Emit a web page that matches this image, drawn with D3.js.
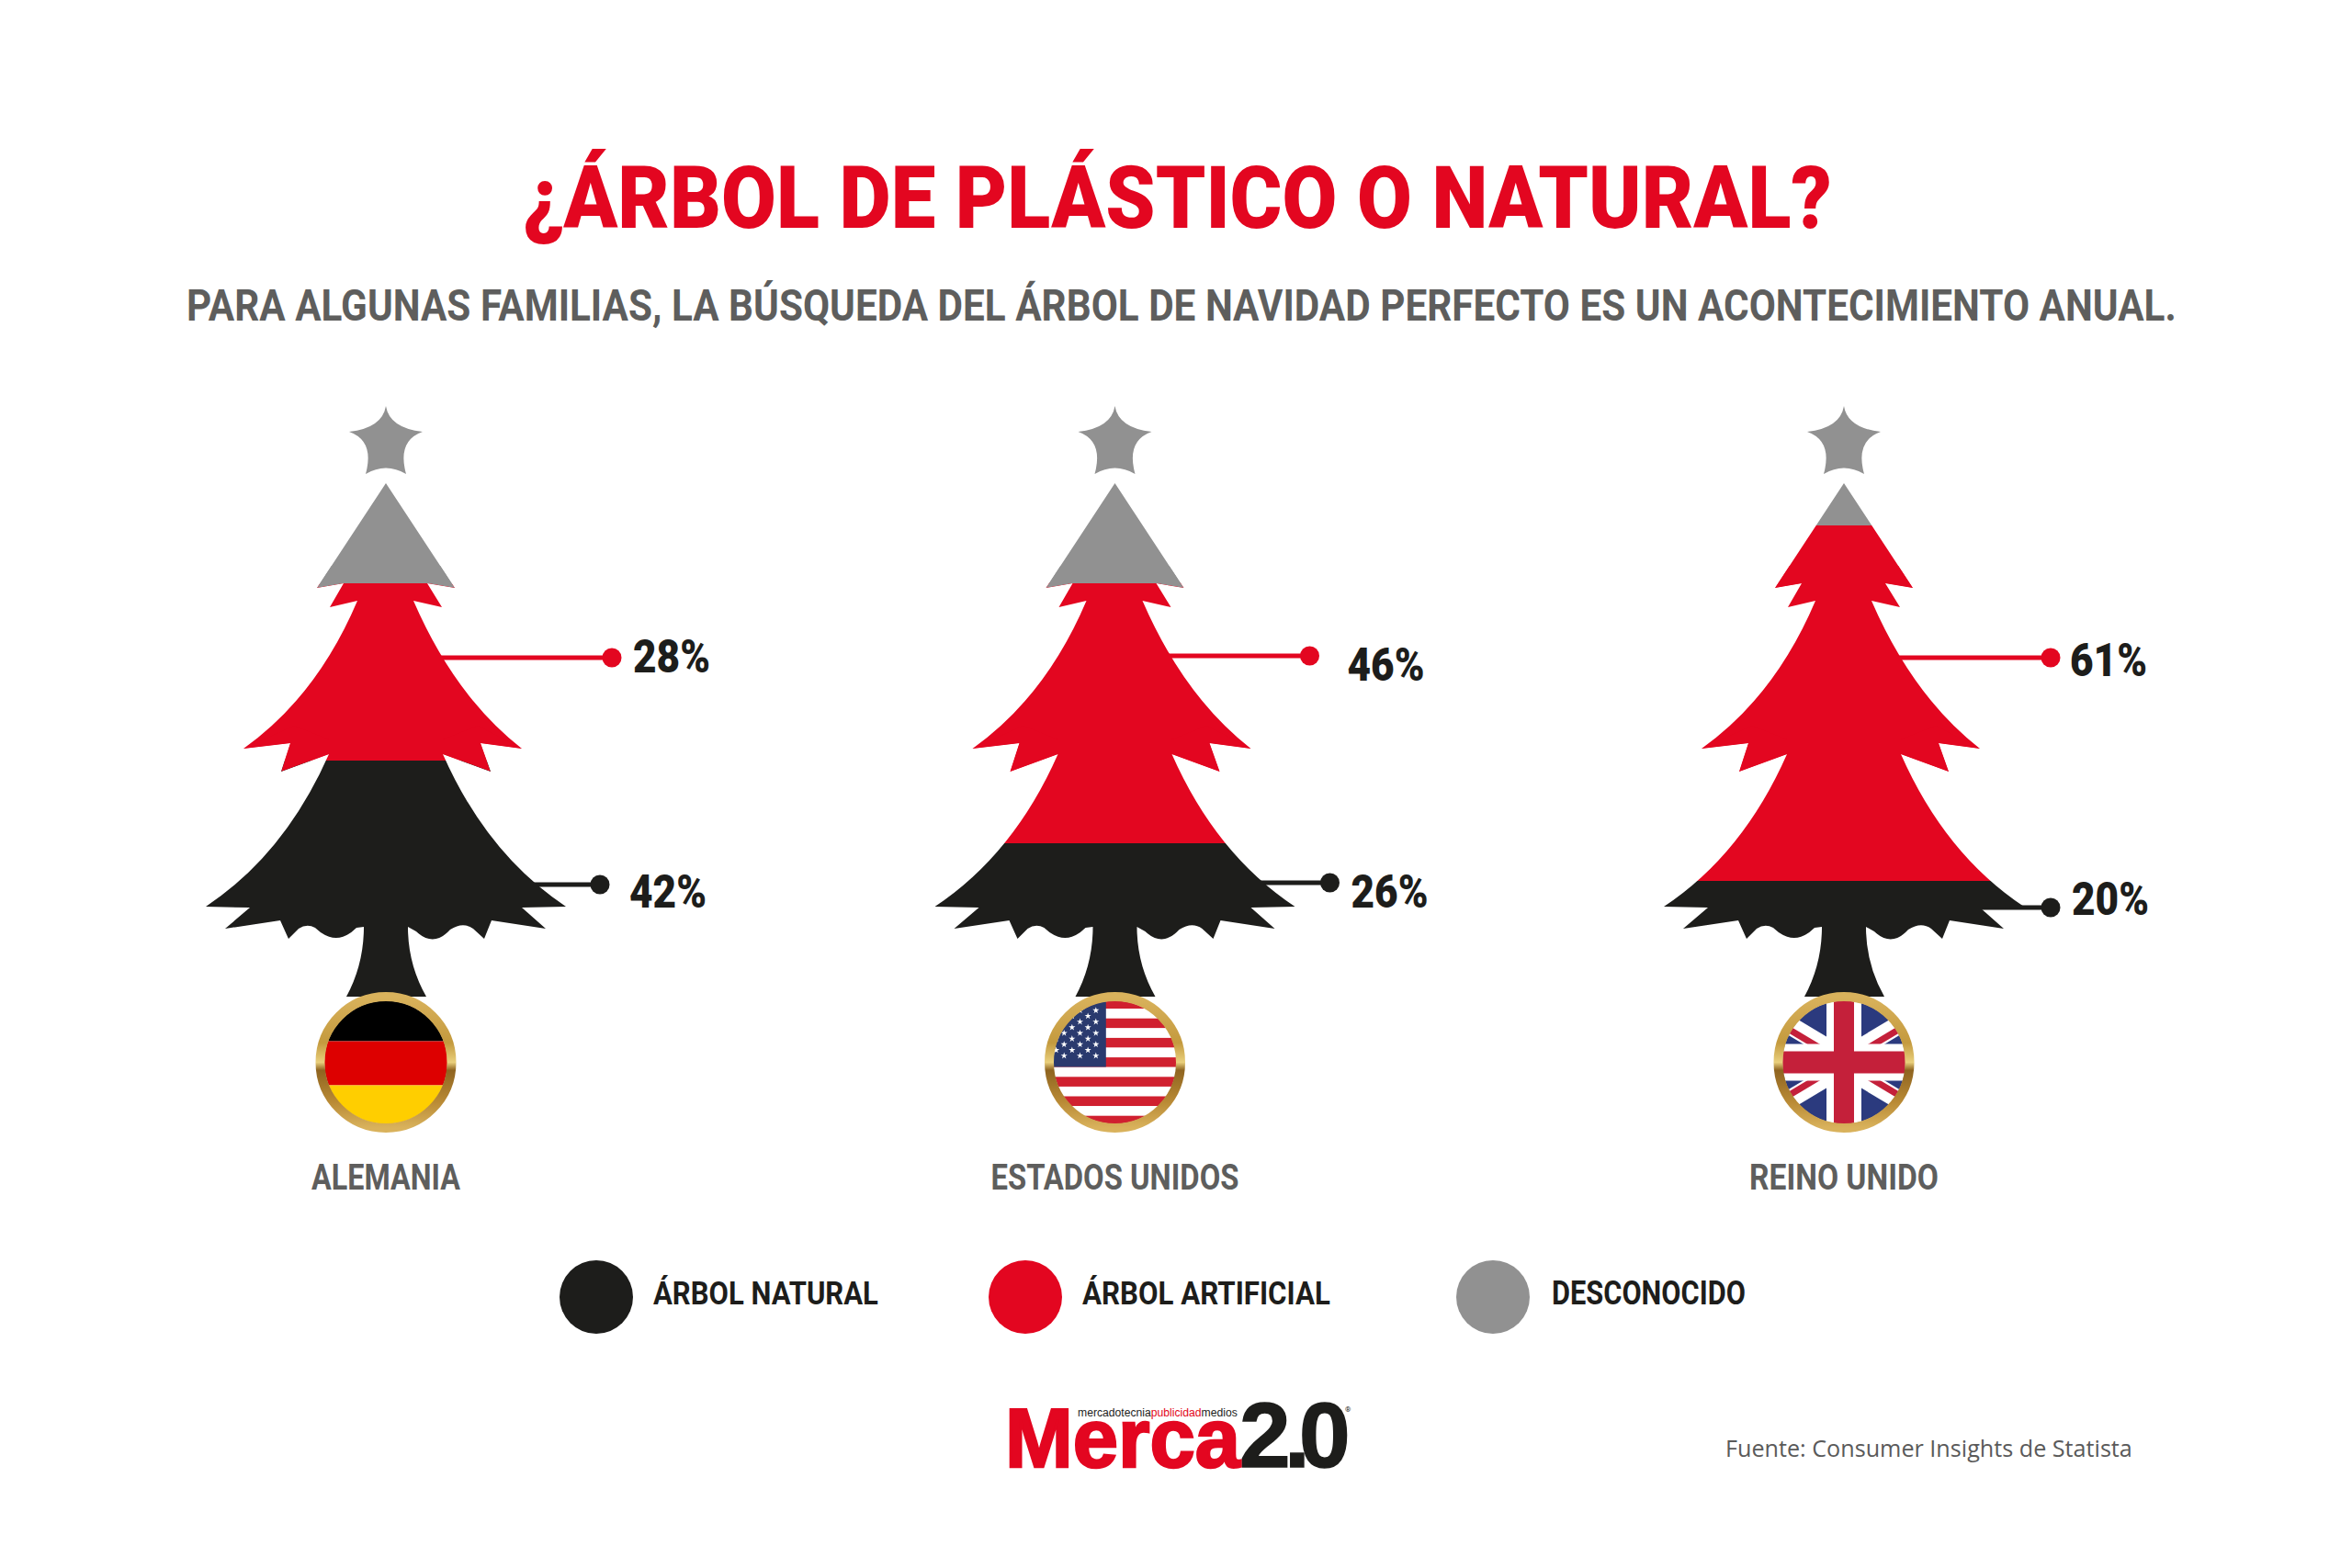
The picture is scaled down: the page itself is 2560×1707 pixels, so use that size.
<!DOCTYPE html>
<html>
<head>
<meta charset="utf-8">
<script src="https://d3js.org/d3.v7.min.js"></script>
<style>
  body { margin: 0; background: #fff; }
  text { font-family: Roboto, sans-serif; font-weight: 700; }
</style>
</head>
<body>
<div id="chart"></div>
<script>
// Chart data
var countries = ["ALEMANIA", "ESTADOS UNIDOS", "REINO UNIDO"];
var natural = [42, 26, 20];
var artificial = [28, 46, 61];
var categories = ["ÁRBOL NATURAL", "ÁRBOL ARTIFICIAL", "DESCONOCIDO"];

var colors = ["#1d1d1b", "#e30620", "#919191"];
var svgWidth = 2560;
var svgHeight = 1707;

var svg = d3.select("#chart").append("svg")
  .attr("width", svgWidth)
  .attr("height", svgHeight)
  .style("display", "block");
var defs = svg.append("defs");

// Tree centers
var xScale = d3.scalePoint().domain(countries).range([420, 2007]);

// Share of households to height on the tree, the star counts as the top of the 100%
var yScale = d3.scaleLinear()
  .domain([0, 20, 26, 42, 70, 72, 81, 100])
  .range([1088, 959, 918, 828, 635, 634, 572, 442]);

var colorScale = d3.scaleOrdinal().domain(categories).range(colors);

// Tree silhouette, x relative to the tree center, y on the page
var treeShape = "M0,442 Q4,466 40,470 Q12,480 22,516 Q0,503 -22,516 Q-12,480 -40,470 Q-4,466 0,442 Z " +
  "M0,526 L75,640 L45,635 L61,661 L30,654 Q75,758 148,815 L103,809 L114,840 L62,821 " +
  "Q110,930 196,987 L148,988 L174,1011 L115,1002 L107,1022 L95,1011 Q84,1003 70,1012 " +
  "Q52,1032 33,1014 L24,1009 Q24,1050 44,1085 L-43,1085 Q-24,1050 -24,1009 L-32,1010 " +
  "Q-54,1032 -77,1010 Q-86,1005 -95,1011 L-106,1022 L-115,1002 L-175,1011 L-148,988 " +
  "L-196,987 Q-110,930 -62,821 L-114,840 L-104,809 L-155,815 Q-75,758 -31,654 " +
  "L-61,661 L-46,635 L-75,640 Z";

// Points of the upper tiers hang over the tier below and keep that tier's color
var tierTips = [
  { y: 632, d: "M-75,640 L-46,635 L46,635 L75,640 L60,616 L-60,616 Z" },
  { y: 815, d: "M-155,815 L-104,809 L-114,840 L-62,821 L-62,805 L-100,790 Z" },
  { y: 815, d: "M148,815 L103,809 L114,840 L62,821 L62,805 L100,790 Z" }
];

defs.append("clipPath").attr("id", "treeClip").append("path").attr("d", treeShape);
defs.append("clipPath").attr("id", "flagClip").append("circle").attr("r", 67);

var ring = defs.append("linearGradient").attr("id", "ring")
  .attr("x1", 0).attr("y1", 0).attr("x2", 0).attr("y2", 1);
[[0, "#d9b25c"], [0.35, "#c49a3e"], [0.5, "#e9cf7c"], [0.56, "#8f6420"], [0.8, "#b98a35"], [1, "#d9b25c"]]
  .forEach(function(s) {
    ring.append("stop").attr("offset", s[0]).attr("stop-color", s[1]);
  });

// Squeezes a text to the width it has in the picture
function fitText(sel, x, y, w, size, fill) {
  sel.attr("font-size", size).attr("fill", fill);
  var k = w / sel.node().getComputedTextLength();
  return sel.attr("transform", `translate(${x}, ${y}) scale(${k}, 1)`);
}

// Title
fitText(svg.append("text").style("font-weight", 900).text("¿ÁRBOL DE PLÁSTICO O NATURAL?"),
  569, 248, 1425, 94, colors[1]);
fitText(svg.append("text").text("PARA ALGUNAS FAMILIAS, LA BÚSQUEDA DEL ÁRBOL DE NAVIDAD PERFECTO ES UN ACONTECIMIENTO ANUAL."),
  203, 349, 2166, 49, "#5e5e5d");

// Leader lines, layout only
var leadRed = { dx: [246, 212, 225], y: [716, 714, 716], textDx: [269, 253, 246], base: [732, 741, 736] };
var leadBlack = { dx: [233, 234, 225], y: [963, 961, 988], textDx: [265, 257, 248], base: [988, 988, 996] };
var leadStart = [50, 130];

var trees = svg.selectAll(".tree")
  .data(countries)
  .enter().append("g")
  .attr("class", "tree")
  .attr("transform", d => `translate(${xScale(d)}, 0)`);

function addLeader(values, lead, color, start) {
  trees.append("line")
    .attr("x1", start)
    .attr("x2", (d, i) => lead.dx[i])
    .attr("y1", (d, i) => lead.y[i])
    .attr("y2", (d, i) => lead.y[i])
    .attr("stroke", color)
    .attr("stroke-width", 5);
  trees.append("circle")
    .attr("cx", (d, i) => lead.dx[i])
    .attr("cy", (d, i) => lead.y[i])
    .attr("r", 10.5)
    .attr("fill", color);
  trees.append("text")
    .style("font-weight", 900)
    .text((d, i) => values[i] + "%")
    .each(function(d, i) {
      fitText(d3.select(this), lead.textDx[i], lead.base[i], 84, 50, colors[0]);
    });
}
addLeader(artificial, leadRed, colors[1], leadStart[0]);
addLeader(natural, leadBlack, colors[0], leadStart[1]);

// Tree bands, clipped to the silhouette
var bands = trees.append("g").attr("clip-path", "url(#treeClip)");

bands.append("rect")
  .attr("x", -210).attr("width", 420)
  .attr("y", yScale(100))
  .attr("height", (d, i) => yScale(natural[i] + artificial[i]) - yScale(100))
  .attr("fill", colorScale(categories[2]));
bands.append("rect")
  .attr("x", -210).attr("width", 420)
  .attr("y", (d, i) => yScale(natural[i] + artificial[i]))
  .attr("height", (d, i) => yScale(natural[i]) - yScale(natural[i] + artificial[i]))
  .attr("fill", colorScale(categories[1]));
bands.append("rect")
  .attr("x", -210).attr("width", 420)
  .attr("y", (d, i) => yScale(natural[i]))
  .attr("height", (d, i) => yScale(0) - yScale(natural[i]))
  .attr("fill", colorScale(categories[0]));

function bandColor(y, i) {
  if (y >= yScale(natural[i])) return colorScale(categories[0]);
  if (y >= yScale(natural[i] + artificial[i])) return colorScale(categories[1]);
  return colorScale(categories[2]);
}

tierTips.forEach(function(tip) {
  bands.append("path")
    .attr("d", tip.d)
    .attr("fill", (d, i) => bandColor(tip.y, i));
});

// Flags
var medals = trees.append("g").attr("transform", "translate(0, 1156.5)");
var flags = medals.append("g").attr("clip-path", "url(#flagClip)");

function flagGermany(g) {
  g.append("rect").attr("x", -70).attr("y", -70).attr("width", 140).attr("height", 47).attr("fill", "#000");
  g.append("rect").attr("x", -70).attr("y", -23).attr("width", 140).attr("height", 48).attr("fill", "#dd0000");
  g.append("rect").attr("x", -70).attr("y", 25).attr("width", 140).attr("height", 47).attr("fill", "#ffce00");
}

function flagUsa(g) {
  var stripes = d3.range(13);
  g.selectAll(".stripe").data(stripes).enter().append("rect")
    .attr("x", -70).attr("width", 140)
    .attr("y", d => -69 + d * 10.6)
    .attr("height", 10.7)
    .attr("fill", d => d % 2 ? "#ffffff" : "#d0202f");
  g.append("rect").attr("x", -70).attr("y", -70).attr("width", 60.3).attr("height", 75).attr("fill", "#2a3a6e");
  var star = d3.symbol().type(d3.symbolStar).size(16);
  d3.range(9).forEach(function(row) {
    d3.range(4).forEach(function(col) {
      var sx = -20.7 - col * 17.3 - (row % 2 ? 8.65 : 0);
      var sy = -56.5 + row * 6.17;
      g.append("path").attr("d", star()).attr("fill", "#fff")
        .attr("transform", `translate(${sx}, ${sy})`);
    });
  });
}

function flagUk(g) {
  g.append("rect").attr("x", -70).attr("y", -70).attr("width", 140).attr("height", 140).attr("fill", "#2b3a7e");
  [[-1, -0.6], [1, 0.6], [-1, 0.6], [1, -0.6]].forEach(function(v) {
    var shift = v[1] < 0 ? -5 : 5;
    g.append("line").attr("x1", 0).attr("y1", shift).attr("x2", v[0] * 90).attr("y2", v[1] * 90 + shift)
      .attr("stroke", "#fff").attr("stroke-width", 20);
    g.append("line").attr("x1", 0).attr("y1", 0).attr("x2", v[0] * 90).attr("y2", v[1] * 90)
      .attr("stroke", "#c4203a").attr("stroke-width", 7);
  });
  g.append("rect").attr("x", -19).attr("y", -70).attr("width", 38).attr("height", 140).attr("fill", "#fff");
  g.append("rect").attr("x", -70).attr("y", -20).attr("width", 140).attr("height", 40).attr("fill", "#fff");
  g.append("rect").attr("x", -11).attr("y", -70).attr("width", 22).attr("height", 140).attr("fill", "#c4203a");
  g.append("rect").attr("x", -70).attr("y", -12).attr("width", 140).attr("height", 24).attr("fill", "#c4203a");
}

flags.each(function(d, i) {
  [flagGermany, flagUsa, flagUk][i](d3.select(this));
});

medals.append("circle")
  .attr("r", 71.5)
  .attr("fill", "none")
  .attr("stroke", "url(#ring)")
  .attr("stroke-width", 10);

// Country names
var nameLeft = [-81, -135, -103];
var nameWidth = [162, 270, 206];
trees.append("text")
  .text(d => d)
  .each(function(d, i) {
    fitText(d3.select(this), nameLeft[i], 1295, nameWidth[i], 38, "#5e5e5d");
  });

// Legend
var legendX = [649, 1116, 1625];
var legendW = [245, 270, 211];
var legend = svg.selectAll(".legend")
  .data(categories)
  .enter().append("g")
  .attr("class", "legend")
  .attr("transform", (d, i) => `translate(${legendX[i]}, 1412)`);
legend.append("circle").attr("r", 40).attr("fill", d => colorScale(d));
legend.append("text")
  .text(d => d)
  .each(function(d, i) {
    fitText(d3.select(this), i === 2 ? 64 : 62, 8, legendW[i], 36, colors[0]);
  });

// Logo
var logoFont = "'Liberation Sans', sans-serif";
fitText(svg.append("text").style("font-family", logoFont).text("Merca"), 1094, 1597, 256, 90, colors[1])
  .attr("stroke", colors[1]).attr("stroke-width", 2.5);
svg.append("text").text("2.0")
  .attr("x", "1349 1398 1414")
  .attr("y", 1597)
  .attr("font-size", 100)
  .attr("fill", colors[0])
  .attr("stroke", colors[0]).attr("stroke-width", 1.5)
  .style("font-family", logoFont);
var tagline = svg.append("text").style("font-family", logoFont).style("font-weight", 400);
tagline.append("tspan").text("mercadotecnia");
tagline.append("tspan").attr("fill", colors[1]).text("publicidad");
tagline.append("tspan").text("medios");
fitText(tagline, 1173, 1542, 174, 13.5, colors[0]);
svg.append("text").text("®").attr("x", 1464).attr("y", 1537).attr("font-size", 8)
  .attr("fill", colors[0]).style("font-weight", 400);

// Source
fitText(svg.append("text").style("font-family", "'Open Sans', sans-serif").style("font-weight", 400)
  .text("Fuente: Consumer Insights de Statista"), 1878, 1586, 443, 25, "#5a5a5a");
</script>
</body>
</html>
